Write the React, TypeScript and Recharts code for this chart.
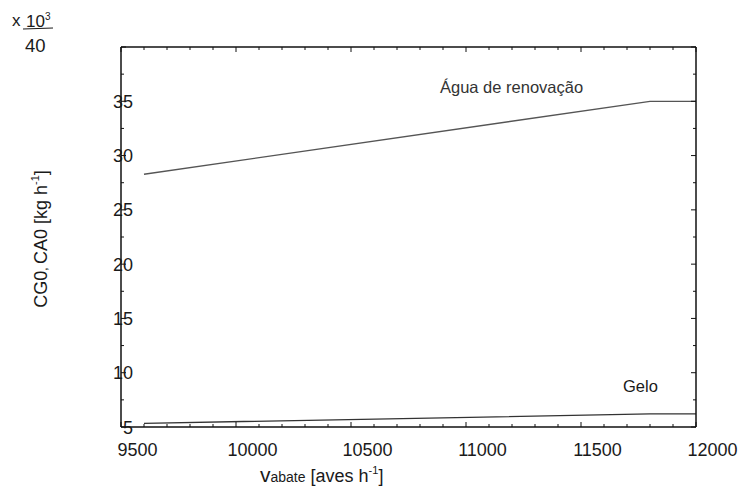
import React from 'react';
import { LineChart, Line, XAxis, YAxis } from 'recharts';

// Production rate (aves/h) at the breakpoints of the curves
const rateValues = [9600, 11800, 12000];
// Água de renovação (x10^3 kg/h)
const aguaValues = [28.28, 35.0, 35.0];
// Gelo (x10^3 kg/h)
const geloValues = [5.34, 6.2, 6.2];

const xTicks = [
  9500, 9600, 9700, 9800, 9900, 10000, 10100, 10200, 10300, 10400, 10500,
  10600, 10700, 10800, 10900, 11000, 11100, 11200, 11300, 11400, 11500,
  11600, 11700, 11800, 11900, 12000,
];
const yTicks = [5, 7.5, 10, 12.5, 15, 17.5, 20, 22.5, 25, 27.5, 30, 32.5, 35, 37.5, 40];
const yLabels = [5, 10, 15, 20, 25, 30, 35];
const xLabels = [9500, 10000, 10500, 11000, 11500, 12000];

const data = rateValues.map((r, i) => ({ rate: r, agua: aguaValues[i], gelo: geloValues[i] }));

const FONT = '"Liberation Sans", Arial, sans-serif';
const AXIS = '#111';
const TXT = '#1a1a1a';

const BottomTick = (props: any) => {
  const { x, y, payload } = props;
  const v = payload.value;
  const major = xLabels.includes(v);
  return (
    <g>
      <line x1={x} x2={x} y1={y} y2={y - (major ? 5 : 3)} stroke={AXIS} strokeWidth={1} />
      {major && (
        <text x={x + 16.5} y={y + 29} textAnchor="middle" fontSize={18} fontFamily={FONT} fill={TXT}>
          {v}
        </text>
      )}
    </g>
  );
};

const TopTick = (props: any) => {
  const { x, y, payload } = props;
  const major = xLabels.includes(payload.value);
  return <line x1={x} x2={x} y1={y} y2={y + (major ? 5 : 3)} stroke={AXIS} strokeWidth={1} />;
};

const LeftTick = (props: any) => {
  const { x, y, payload } = props;
  const v = payload.value;
  const major = v % 5 === 0;
  return (
    <g>
      <line x1={x} x2={x + (major ? 5 : 3)} y1={y} y2={y} stroke={AXIS} strokeWidth={1} />
      {yLabels.includes(v) && (
        <text x={x + 12} y={y + 6.5} textAnchor="end" fontSize={18} fontFamily={FONT} fill={TXT}>
          {v}
        </text>
      )}
    </g>
  );
};

const RightTick = (props: any) => {
  const { x, y, payload } = props;
  const major = payload.value % 5 === 0;
  return <line x1={x} x2={x - (major ? 5 : 3)} y1={y} y2={y} stroke={AXIS} strokeWidth={1} />;
};

export default function App() {
  return (
    <div style={{ position: 'absolute', left: 0, top: 0, width: 740, height: 490, background: '#fff' }}>
      <LineChart width={740} height={490} data={data} margin={{ top: 46, right: 43, left: 0, bottom: 0 }}>
        <XAxis
          dataKey="rate"
          type="number"
          domain={[9500, 12000]}
          ticks={xTicks}
          interval={0}
          height={63}
          tickSize={0}
          tickMargin={0}
          tickLine={false}
          axisLine={{ stroke: AXIS, strokeWidth: 1.5 }}
          tick={<BottomTick />}
        />
        <XAxis
          xAxisId="top"
          dataKey="rate"
          type="number"
          orientation="top"
          domain={[9500, 12000]}
          ticks={xTicks}
          interval={0}
          height={1}
          tickSize={0}
          tickMargin={0}
          tickLine={false}
          axisLine={{ stroke: AXIS, strokeWidth: 1.5 }}
          tick={<TopTick />}
        />
        <YAxis
          type="number"
          domain={[5, 40]}
          ticks={yTicks}
          interval={0}
          width={121}
          tickSize={0}
          tickMargin={0}
          tickLine={false}
          axisLine={{ stroke: AXIS, strokeWidth: 1.5 }}
          tick={<LeftTick />}
        />
        <YAxis
          yAxisId="right"
          type="number"
          orientation="right"
          domain={[5, 40]}
          ticks={yTicks}
          interval={0}
          width={1}
          tickSize={0}
          tickMargin={0}
          tickLine={false}
          axisLine={{ stroke: AXIS, strokeWidth: 1.5 }}
          tick={<RightTick />}
        />
        <Line
          type="linear"
          dataKey="agua"
          stroke="#555"
          strokeWidth={1.3}
          dot={false}
          activeDot={false}
          isAnimationActive={false}
        />
        <Line
          type="linear"
          dataKey="gelo"
          xAxisId="top"
          yAxisId="right"
          stroke="#333"
          strokeWidth={1.3}
          dot={false}
          activeDot={false}
          isAnimationActive={false}
        />
      </LineChart>
      <svg
        width={740}
        height={490}
        style={{ position: 'absolute', left: 0, top: 0, pointerEvents: 'none' }}
        fontFamily={FONT}
      >
        <text x={12} y={26} fontSize={17} fill={TXT}>x</text>
        <text x={26} y={27} fontSize={17} fill={TXT}>10</text>
        <text x={45} y={20} fontSize={10} fill={TXT}>3</text>
        <line x1={23} x2={53} y1={29} y2={28} stroke={TXT} strokeWidth={1.2} />
        <text x={25} y={52} fontSize={18.5} fill={TXT}>40</text>

        <text x={440} y={93} fontSize={16.5} fill="#333">Água de renovação</text>
        <text x={623} y={392} fontSize={16.5} fill={TXT}>Gelo</text>

        <text x={260} y={482} fill={TXT}>
          <tspan fontSize={21}>v</tspan>
          <tspan fontSize={14}>abate</tspan>
          <tspan fontSize={18}> [aves h</tspan>
          <tspan fontSize={11} dy={-8}>-1</tspan>
          <tspan fontSize={18} dy={8}>]</tspan>
        </text>

        <text transform="translate(46.5,239) rotate(-90)" textAnchor="middle" fill={TXT}>
          <tspan fontSize={18}>CG0</tspan>
          <tspan fontSize={12}>, </tspan>
          <tspan fontSize={18}>CA0 [kg h</tspan>
          <tspan fontSize={11} dy={-8}>-1</tspan>
          <tspan fontSize={18} dy={8}>]</tspan>
        </text>
      </svg>
    </div>
  );
}
